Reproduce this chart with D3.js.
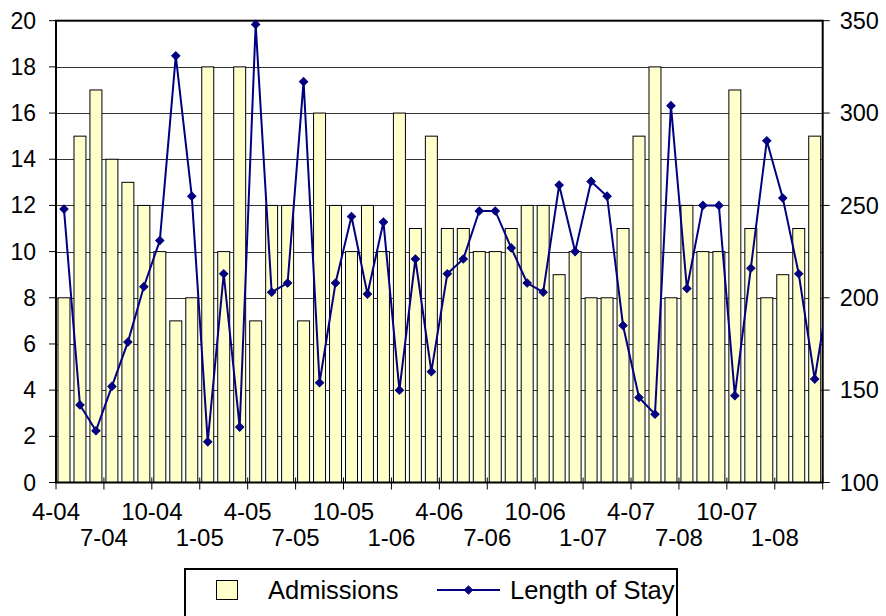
<!DOCTYPE html>
<html>
<head>
<meta charset="utf-8">
<script src="https://cdn.jsdelivr.net/npm/d3@7/dist/d3.min.js"></script>
<style>
  html, body { margin: 0; padding: 0; background: #fff; }
  svg { display: block; }
  text { font-family: "Liberation Sans", Arial, sans-serif; fill: #000; }
</style>
</head>
<body>
<svg id="chart" width="886" height="616"></svg>
<script>
// ---- data ----
const categories = ["4-04","5-04","6-04","7-04","8-04","9-04","10-04","11-04","12-04",
  "1-05","2-05","3-05","4-05","5-05","6-05","7-05","8-05","9-05","10-05","11-05","12-05",
  "1-06","2-06","3-06","4-06","5-06","6-06","7-06","8-06","9-06","10-06","11-06","12-06",
  "1-07","2-07","3-07","4-07","5-07","6-07","7-08","8-07","9-07","10-07","11-07","12-07",
  "1-08","2-08","3-08"];
const admissions = [8,15,17,14,13,12,10,7,8,18,10,18,7,12,12,7,16,12,10,12,10,16,11,15,
  11,11,10,10,11,12,12,9,10,8,8,11,15,18,8,12,10,10,17,11,8,9,11,15];
const lengthOfStay = [248,142,128,152,176,206,231,331,255,122,213,130,348,203,208,317,
  154,208,244,202,241,150,221,160,213,221,247,247,227,208,203,261,225,263,255,185,146,
  137,304,205,250,250,147,216,285,254,213,156,210];
const leftTicks = [0,2,4,6,8,10,12,14,16,18,20];
const rightTicks = [100,150,200,250,300,350];
const labelEvery = 3;
const seriesNames = ["Admissions", "Length of Stay"];

// ---- layout ----
const svg = d3.select("#chart");
const L = 56, R = 822.7, T = 20.7, B = 482.5;
const nCat = categories.length;

const x = d3.scaleLinear().domain([0, nCat]).range([L, R]);
const yL = d3.scaleLinear().domain([0, 20]).range([B, T]);
const yR = d3.scaleLinear().domain([100, 350]).range([B, T]);
const slot = x(1) - x(0);
const barW = slot * 0.75;

// gridlines
svg.append("g").selectAll("line").data(leftTicks.filter(d => d > 0 && d < 20)).join("line")
  .attr("x1", L).attr("x2", R)
  .attr("y1", d => Math.round(yL(d)) + 0.5).attr("y2", d => Math.round(yL(d)) + 0.5)
  .attr("stroke", "#333").attr("stroke-width", 1);

// bars
svg.append("g").selectAll("rect").data(admissions).join("rect")
  .attr("x", (d, i) => x(i) + (slot - barW) / 2)
  .attr("width", barW)
  .attr("y", d => yL(d))
  .attr("height", d => B - yL(d))
  .attr("fill", "#FFFFCC").attr("stroke", "#000").attr("stroke-width", 1);

// plot border
svg.append("rect").attr("x", L).attr("y", T).attr("width", R - L).attr("height", B - T)
  .attr("fill", "none").attr("stroke", "#000").attr("stroke-width", 2);

// clip for line
svg.append("clipPath").attr("id", "plotclip").append("rect")
  .attr("x", L).attr("y", 0).attr("width", R - L).attr("height", 616);

const line = d3.line().x((d, i) => x(i + 0.5)).y(d => yR(d));
svg.append("path").datum(lengthOfStay)
  .attr("clip-path", "url(#plotclip)")
  .attr("d", line).attr("fill", "none").attr("stroke", "#000080").attr("stroke-width", 2);

const diamond = d3.symbol().type(d3.symbolSquare).size(34);
svg.append("g").attr("clip-path", "url(#plotclip)")
  .selectAll("path").data(lengthOfStay).join("path")
  .attr("d", diamond)
  .attr("transform", (d, i) => `translate(${x(i + 0.5)},${yR(d)}) rotate(45)`)
  .attr("fill", "#000080").attr("stroke", "#000080").attr("stroke-width", 1);

// left axis
const gl = svg.append("g");
gl.selectAll("line").data(leftTicks).join("line")
  .attr("x1", L - 7).attr("x2", L).attr("y1", d => yL(d)).attr("y2", d => yL(d))
  .attr("stroke", "#000").attr("stroke-width", 1);
gl.selectAll("text").data(leftTicks).join("text")
  .attr("x", L - 20).attr("y", d => yL(d)).attr("dy", "0.35em")
  .attr("text-anchor", "end").attr("font-size", 23).text(d => d);

// right axis
const gr = svg.append("g");
gr.selectAll("line").data(rightTicks).join("line")
  .attr("x1", R).attr("x2", R + 7).attr("y1", d => yR(d)).attr("y2", d => yR(d))
  .attr("stroke", "#000").attr("stroke-width", 1);
gr.selectAll("text").data(rightTicks).join("text")
  .attr("x", R + 17).attr("y", d => yR(d)).attr("dy", "0.35em")
  .attr("text-anchor", "start").attr("font-size", 23.5).text(d => d);

// x axis ticks and labels
const tickIdx = d3.range(0, nCat + 1, labelEvery);
svg.append("g").selectAll("line").data(tickIdx).join("line")
  .attr("x1", d => x(d)).attr("x2", d => x(d)).attr("y1", B - 5).attr("y2", B + 7)
  .attr("stroke", "#000").attr("stroke-width", 1);
const labelIdx = d3.range(0, nCat, labelEvery);
svg.append("g").selectAll("text").data(labelIdx).join("text")
  .attr("x", d => x(d))
  .attr("y", (d, k) => k % 2 === 0 ? 519.5 : 545.5)
  .attr("text-anchor", "middle").attr("font-size", 24)
  .text(d => categories[d]);

// legend
const lg = svg.append("g");
lg.append("rect").attr("x", 185).attr("y", 569).attr("width", 492).attr("height", 70)
  .attr("fill", "#fff").attr("stroke", "#000").attr("stroke-width", 2);
lg.append("rect").attr("x", 216.5).attr("y", 580.5).attr("width", 21).attr("height", 19)
  .attr("fill", "#FFFFCC").attr("stroke", "#000").attr("stroke-width", 1);
lg.append("text").attr("x", 268).attr("y", 598.5).attr("font-size", 25.5).text(seriesNames[0]);
lg.append("line").attr("x1", 437).attr("x2", 500).attr("y1", 590).attr("y2", 590)
  .attr("stroke", "#000080").attr("stroke-width", 2);
lg.append("path").attr("d", diamond)
  .attr("transform", "translate(468.5,590) rotate(45)")
  .attr("fill", "#000080").attr("stroke", "#000080");
lg.append("text").attr("x", 510).attr("y", 598.5).attr("font-size", 25.5).text(seriesNames[1]);
</script>
</body>
</html>
